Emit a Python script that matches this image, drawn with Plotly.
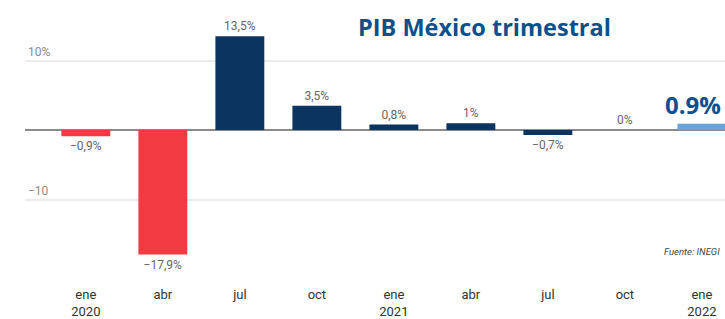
import plotly.graph_objects as go

periodos = ["ene<br>2020", "abr", "jul", "oct", "ene<br>2021", "abr", "jul", "oct", "ene<br>2022"]
valores = [-0.9, -17.9, 13.5, 3.5, 0.8, 1.0, -0.7, 0.0, 0.9]
etiquetas = ["\u22120,9%", "\u221217,9%", "13,5%", "3,5%", "0,8%", "1%", "\u22120,7%", "0%", ""]
etiqueta_final = "0.9%"
colores = ["#f23a43", "#f23a43", "#0b3461", "#0b3461", "#0b3461", "#0b3461", "#0b3461", "#0b3461", "#6aa3d5"]
y_ticks = [10, -10]
y_ticktext = ["10%", "\u221210"]

x = list(range(len(valores)))

W, H = 725, 319
ML, MB = 25, 32
plot_w = W - ML
plot_h = H - MB

fig = go.Figure()
fig.add_trace(go.Bar(
    x=x, y=valores, marker=dict(color=colores, line=dict(width=0)),
    width=0.635,
    text=etiquetas, textposition="outside",
    textfont=dict(size=12, color="#666666", family="Roboto"),
    cliponaxis=False, hoverinfo="skip",
))

fig.update_layout(
    width=W, height=H,
    margin=dict(l=ML, r=0, t=0, b=MB),
    paper_bgcolor="white", plot_bgcolor="white",
    showlegend=False,
    font=dict(family="Roboto", color="#444444"),
    xaxis=dict(
        range=[-0.79, 8.30], tickmode="array", tickvals=x, ticktext=periodos,
        showgrid=False, zeroline=False, showline=False, ticks="",
        tickfont=dict(size=13, color="#333333", family="Roboto"),
    ),
    yaxis=dict(
        range=[-(plot_h - 131) / 7, 131 / 7], tickmode="array", tickvals=y_ticks, ticktext=y_ticktext,
        showgrid=True, gridcolor="#ececec", gridwidth=2,
        zeroline=True, zerolinecolor="#8a8a8a", zerolinewidth=1.5,
        ticklabelposition="inside top", ticks="",
        tickfont=dict(size=12, color="#8a8a8a", family="Roboto"),
    ),
    annotations=[
        dict(text="<b>PIB México trimestral</b>", x=(356 - ML) / plot_w, y=1 - 27 / plot_h,
             xref="paper", yref="paper",
             showarrow=False, font=dict(size=23.5, color="#0b4f8c", family="Open Sans"),
             xanchor="left", yanchor="middle"),
        dict(text="<i>Fuente: INEGI</i>", x=(662 - ML) / plot_w, y=1 - 253 / plot_h,
             xref="paper", yref="paper",
             showarrow=False, font=dict(size=9.5, color="#444444", family="Roboto"),
             xanchor="left", yanchor="middle"),
        dict(text="<b>" + etiqueta_final + "</b>", x=x[-1], y=valores[-1], xref="x", yref="y",
             showarrow=False, font=dict(size=24, color="#0b4f8c", family="Open Sans"),
             xanchor="center", yanchor="bottom", xshift=-9, yshift=1),
    ],
)

fig.write_html("out.html", config={"displayModeBar": False},
               post_script="document.body.style.margin='0';document.body.style.overflow='hidden';")
